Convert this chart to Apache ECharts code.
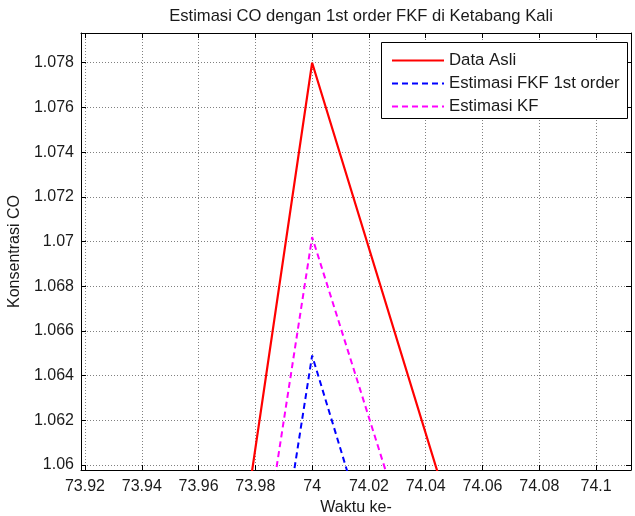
<!DOCTYPE html>
<html>
<head>
<meta charset="utf-8">
<title>Estimasi CO</title>
<script src="https://cdn.jsdelivr.net/npm/echarts@6/dist/echarts.min.js"></script>
<style>
  html, body { margin: 0; padding: 0; background: #fff; }
  #chart { width: 635px; height: 516px; }
</style>
</head>
<body>
<div id="chart"></div>
<script>
// Time steps (Waktu ke-) and CO concentration series
const waktu = [73, 74, 75];
const dataAsli = [0.2145, 1.0780, 0.6634];
const estimasiFKF = [0.2522, 1.0649, 0.6459];
const estimasiKF = [0.2476, 1.0702, 0.6665];

// Tick values shown on the axes
const xTicks = [73.92, 73.94, 73.96, 73.98, 74, 74.02, 74.04, 74.06, 74.08, 74.1];
const yTicks = [1.06, 1.062, 1.064, 1.066, 1.068, 1.07, 1.072, 1.074, 1.076, 1.078];

const xRange = [73.9186, 74.1123];
const yRange = [1.059776, 1.079329];

const FONT = 'Liberation Sans, Arial, Helvetica, sans-serif';

const pairs = (xs, ys) => xs.map((x, i) => [x, ys[i]]);

const fmtX = v => String(+(+v).toFixed(2));
const fmtY = v => String(+(+v).toFixed(3));

function axisBase(range, ticks, fmt, showLabel, showGrid) {
  return {
    type: 'value',
    min: range[0],
    max: range[1],
    axisLine: { show: true, onZero: false, lineStyle: { color: '#000', width: 1 } },
    axisTick: { show: true, inside: true, length: 5, customValues: ticks, lineStyle: { color: '#000', width: 1 } },
    axisLabel: {
      show: showLabel, customValues: ticks, formatter: fmt,
      color: '#1a1a1a', fontFamily: FONT, fontSize: 16
    },
    splitLine: {
      show: showGrid,
      lineStyle: { color: '#808080', type: [1, 2], width: 1 }
    }
  };
}

const chart = echarts.init(document.getElementById('chart'), null, { renderer: 'canvas' });

const xBottom = Object.assign(axisBase(xRange, xTicks, fmtX, true, true), {
  position: 'bottom',
  name: 'Waktu ke-',
  nameLocation: 'middle',
  nameGap: 27,
  nameTextStyle: { color: '#1a1a1a', fontFamily: FONT, fontSize: 16 }
});
xBottom.axisLabel.margin = 9;
const xTop = Object.assign(axisBase(xRange, xTicks, fmtX, false, false), { position: 'top' });

const yLeft = Object.assign(axisBase(yRange, yTicks, fmtY, true, true), {
  position: 'left',
  name: 'Konsentrasi CO',
  nameLocation: 'middle',
  nameGap: 58,
  nameTextStyle: { color: '#1a1a1a', fontFamily: FONT, fontSize: 16 }
});
yLeft.axisLabel.margin = 7;
const yRight = Object.assign(axisBase(yRange, yTicks, fmtY, false, false), { position: 'right' });

chart.setOption({
  backgroundColor: '#fff',
  animation: false,
  title: {
    text: 'Estimasi CO dengan 1st order FKF di Ketabang Kali',
    left: 356,
    textAlign: 'center',
    top: 3,
    textStyle: { color: '#1a1a1a', fontFamily: FONT, fontSize: 16.6, fontWeight: 'normal' }
  },
  grid: { left: 81, top: 33, right: 4, bottom: 46, containLabel: false, outerBoundsMode: 'none' },
  xAxis: [xBottom, xTop],
  yAxis: [yLeft, yRight],
  graphic: [{
    type: 'rect',
    z: 50,
    shape: { x: 381.5, y: 42.5, width: 246, height: 76 },
    style: { fill: '#fff', stroke: '#000', lineWidth: 1 }
  }],
  legend: {
    z: 60,
    orient: 'vertical',
    left: 391,
    top: 52,
    padding: 0,
    itemWidth: 52,
    itemHeight: 14,
    itemGap: 6,
    itemStyle: { opacity: 0, borderWidth: 0 },
    textStyle: { color: '#1a1a1a', fontFamily: FONT, fontSize: 16.8 },
    data: ['Data Asli', 'Estimasi FKF 1st order', 'Estimasi KF']
  },
  series: [
    {
      name: 'Data Asli', type: 'line', showSymbol: false, symbol: 'none',
      data: pairs(waktu, dataAsli),
      lineStyle: { color: '#ff0000', width: 2.2 },
      itemStyle: { color: '#ff0000' }
    },
    {
      name: 'Estimasi FKF 1st order', type: 'line', showSymbol: false, symbol: 'none',
      data: pairs(waktu, estimasiFKF),
      lineStyle: { color: '#0000ff', width: 2, type: [6, 4] },
      itemStyle: { color: '#0000ff' }
    },
    {
      name: 'Estimasi KF', type: 'line', showSymbol: false, symbol: 'none',
      data: pairs(waktu, estimasiKF),
      lineStyle: { color: '#ff00ff', width: 2, type: [6, 4] },
      itemStyle: { color: '#ff00ff' }
    }
  ]
});
</script>
</body>
</html>
